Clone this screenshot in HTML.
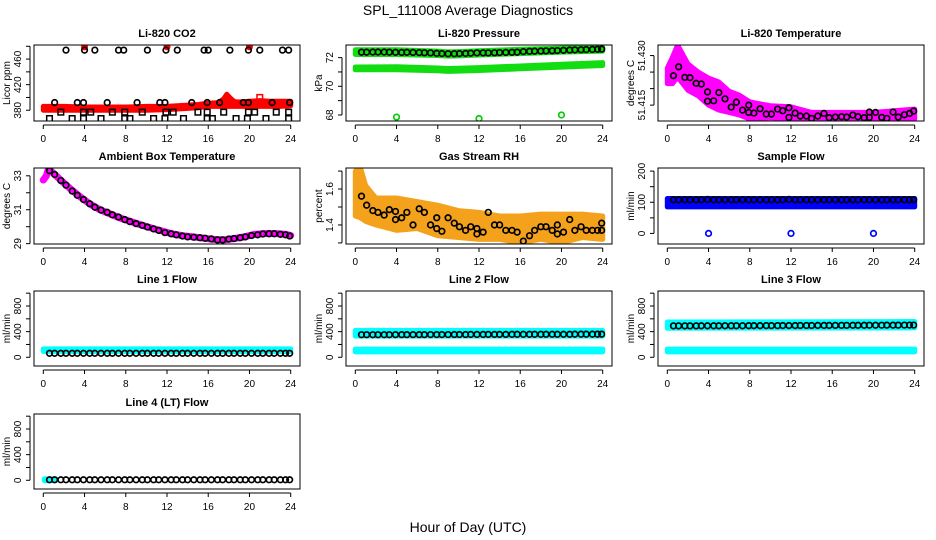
<!DOCTYPE html>
<html><head><meta charset="utf-8"><title>SPL_111008 Average Diagnostics</title>
<style>
html,body{margin:0;padding:0;background:#fff;}
svg{display:block;font-family:"Liberation Sans",Arial,sans-serif;}
</style></head>
<body>
<svg id="chart" width="936" height="540" viewBox="0 0 936 540" xmlns="http://www.w3.org/2000/svg">
<rect x="0" y="0" width="936" height="540" fill="#fff"/>
<text x="468" y="15" text-anchor="middle" font-size="14">SPL_111008  Average Diagnostics</text>
<text x="468" y="532" text-anchor="middle" font-size="14">Hour of Day (UTC)</text>
</svg>
<script>
// ---------- shared time axis ----------
const hours = [0.6,1.1,1.7,2.2,2.8,3.3,3.9,4.5,5.0,5.6,6.2,6.7,7.3,7.9,8.4,9.0,9.6,10.1,10.7,11.2,11.8,12.4,12.9,13.5,14.0,14.6,15.2,15.7,16.3,16.9,17.4,18.0,18.5,19.1,19.6,20.2,20.8,21.3,21.9,22.4,23.0,23.5,23.9];
const xTicks = [0,4,8,12,16,20,24];

// ---------- CO2 ----------
const co2TopT = [2.2,4.0,5.0,7.3,7.8,10.1,11.9,13.0,15.6,16.0,18.1,19.9,21.0,23.2,23.8];
const co2TopV = [474,474,474,474,474,474,474,474,474,474,474,474,474,474,474];
const co2MidT = [1.1,3.3,3.9,6.2,9.1,11.3,11.8,14.4,15.9,17.1,19.4,19.9,22.2,23.9];
const co2MidV = [392,392,392,392,392,392,392,392,392,392,392,392,392,392];
const co2SqHiT = [1.7,3.9,4.6,6.7,7.9,9.6,11.9,12.6,15.0,15.9,17.5,19.9,20.5,22.6,23.8];
const co2SqHiV = [377,377,377,377,377,377,377,377,377,377,377,377,377,377,377];
const co2SqLoT = [0.6,2.8,3.9,5.6,7.9,8.4,10.7,11.8,13.6,15.9,16.4,18.7,19.8,21.6,23.8];
const co2SqLoV = [367,367,367,367,367,367,367,367,367,367,367,367,367,367,367];
const co2RedT = [4,12,20];
const co2RedV = [479,479,479];
const co2BandT = [0,2,4,6,8,10,12,13,14,15,16,17,17.5,17.8,18.2,18.6,19,20,21,22,23,24];
const co2BandLo = [380,380,380,380,380,380,381,382,383,384,386,386,386,386,386,386,386,386,386,386,386,387];
const co2BandHi = [386,386,385,385,385,386,386,387,388,389,391,392,398,405,398,393,393,394,395,394,394,394];

// ---------- Pressure ----------
const presV = [72.38,72.38,72.39,72.39,72.39,72.38,72.37,72.36,72.37,72.36,72.35,72.34,72.33,72.30,72.28,72.27,72.27,72.28,72.29,72.31,72.33,72.33,72.33,72.34,72.35,72.36,72.37,72.38,72.42,72.44,72.45,72.46,72.47,72.48,72.49,72.51,72.53,72.54,72.55,72.56,72.57,72.58,72.59];
const presBandT = [0,4,8,9,10,12,16,20,24];
const presUpLo = [72.22,72.22,72.15,72.10,72.12,72.18,72.28,72.38,72.45];
const presUpHi = [72.55,72.55,72.45,72.40,72.42,72.48,72.58,72.66,72.72];
const presLoLo = [71.15,71.15,71.08,71.04,71.06,71.10,71.22,71.34,71.45];
const presLoHi = [71.35,71.36,71.28,71.24,71.26,71.30,71.42,71.54,71.65];
const presOutT = [4,12,20];
const presOutV = [67.85,67.75,68.0];

// ---------- Li-820 temperature ----------
const tempV = [51.4239,51.4266,51.4234,51.4233,51.4216,51.4214,51.4190,51.4163,51.4188,51.4169,51.4144,51.4159,51.4135,51.4128,51.4126,51.4139,51.4123,51.4123,51.4138,51.4133,51.4142,51.4126,51.4117,51.4117,51.4110,51.4117,51.4125,51.4112,51.4114,51.4115,51.4114,51.4120,51.4115,51.4112,51.4113,51.4128,51.4113,51.4110,51.4129,51.4114,51.4121,51.4125,51.4132];
const tempExT = [3.9,7.9,11.8,19.6];
const tempExV = [51.4162,51.4150,51.4113,51.4129];
const tempBandT = [0,0.5,1,2,3,4,5,6,7,8,10,12,14,16,20,24];
const tempBandLo = [51.4215,51.4215,51.4235,51.4195,51.4178,51.4150,51.4135,51.4128,51.4120,51.4108,51.4112,51.4108,51.4106,51.4106,51.4106,51.4108];
const tempBandHi = [51.4262,51.4295,51.4332,51.4275,51.4250,51.4232,51.4220,51.4192,51.4180,51.4160,51.4148,51.4145,51.4128,51.4128,51.4128,51.4138];

// ---------- Ambient box temperature ----------
const ambV = [33.30,33.08,32.72,32.45,32.10,31.85,31.60,31.35,31.15,30.98,30.85,30.70,30.57,30.42,30.30,30.18,30.08,29.98,29.87,29.78,29.65,29.58,29.52,29.45,29.40,29.38,29.35,29.32,29.28,29.22,29.22,29.27,29.30,29.35,29.40,29.48,29.52,29.57,29.58,29.58,29.55,29.52,29.45];
const ambLineT = [0,0.3,0.5,0.8,1.5,2.5,3.5,4.5,5.5,6.5,7.5,8.5,9.5,10.5,11.5,12.5,13.5,14.5,15.5,16.5,17.5,18.5,19.5,20.5,21.5,22.5,23.5,24];
const ambLineV = [32.75,33.0,33.42,33.25,32.85,32.3,31.8,31.35,31.0,30.75,30.5,30.3,30.1,29.92,29.75,29.58,29.47,29.4,29.33,29.25,29.22,29.3,29.4,29.55,29.6,29.6,29.55,29.48];

// ---------- Gas stream RH ----------
const rhV = [1.56,1.51,1.48,1.47,1.455,1.485,1.475,1.44,1.47,1.40,1.49,1.47,1.40,1.38,1.365,1.44,1.41,1.39,1.37,1.39,1.35,1.36,1.47,1.40,1.40,1.37,1.37,1.36,1.31,1.34,1.37,1.39,1.39,1.37,1.40,1.36,1.43,1.37,1.39,1.37,1.37,1.37,1.41];
const rhExT = [3.9,7.9,11.8,19.6,23.9];
const rhExV = [1.43,1.44,1.38,1.35,1.37];
const rhBandT = [0,0.5,1,2,4,6,8,10,12,14,16,18,20,22,24];
const rhBandLo = [1.45,1.44,1.42,1.40,1.37,1.38,1.34,1.33,1.32,1.32,1.30,1.32,1.30,1.33,1.32];
const rhBandHi = [1.70,1.72,1.62,1.55,1.55,1.53,1.51,1.48,1.47,1.45,1.45,1.46,1.46,1.46,1.45];

// ---------- Sample flow ----------
const sampV = [108,108,108,108,108,108,109,108,108,108,108,108,108,108,108,108,108,108,108,108,109,108,108,108,108,108,108,108,108,108,108,108,108,108,108,108,108,108,108,108,108,108,108];
const sampBandT = [0,24];
const sampBandLo = [85,85];
const sampBandHi = [112,112];
const sampOutT = [4,12,20];
const sampOutV = [0,0,0];

// ---------- Line flows ----------
const line1V = [62,62,62,62,62,62,62,62,62,62,62,62,62,62,62,62,62,62,62,62,62,62,62,62,62,62,62,62,62,62,62,62,62,62,62,62,62,62,62,62,62,62,62];
const line1BandT = [0,24];
const line1BandLo = [92,92];
const line1BandHi = [132,132];
const line2V = [352,352,352,352,352,352,353,353,353,353,353,353,354,354,354,354,355,355,355,356,356,356,357,357,357,357,358,358,358,358,358,358,359,359,359,359,359,360,360,360,360,360,361];
const line2BandT = [0,24];
const line2UpLo = [330,330];
const line2UpHi = [420,420];
const line2LoLo = [85,85];
const line2LoHi = [128,128];
const line3V = [490,490,490,490,490,491,491,491,491,492,492,492,492,493,493,493,494,494,494,495,495,495,496,496,496,497,497,497,498,498,498,499,499,499,500,500,500,501,501,501,502,502,502];
const line3BandT = [0,24];
const line3UpLo = [452,458];
const line3UpHi = [550,558];
const line3LoLo = [85,85];
const line3LoHi = [128,128];
const line4V = [8,8,8,8,8,8,8,8,8,8,8,8,8,8,8,8,8,8,8,8,8,8,8,8,8,8,8,8,8,8,8,8,8,8,8,8,8,8,8,8,8,8,8];
const line4BandT = [0.1,1.2];
const line4BandLo = [-5,-5];
const line4BandHi = [22,22];

// ---------- layout ----------
const colL = [34,346,658], colR = [300,612,924];
const rowT = [45,168,291,414], rowB = [121,244,366,489];
const NS = 'http://www.w3.org/2000/svg';
const svg = document.getElementById('chart');

function mk(tag, attrs, parent){
  const e = document.createElementNS(NS, tag);
  for (const k in attrs) e.setAttribute(k, attrs[k]);
  (parent || svg).appendChild(e);
  return e;
}

function makePanel(key, col, row, title, ylab, ylim, yTicks, yLabels){
  const L = colL[col], R = colR[col], T = rowT[row], B = rowB[row];
  const g = mk('g', {});
  
  
  const x0 = L + 9.3, xs = (R - L - 18.6) / 24;
  const sx = t => x0 + t * xs;
  const sy = v => B - (v - ylim[0]) / (ylim[1] - ylim[0]) * (B - T);
  const clipId = 'clip-' + key;
  const cp = mk('clipPath', {id: clipId}, g);
  mk('rect', {x: L, y: T, width: R - L, height: B - T}, cp);
  const plot = mk('g', {'clip-path': 'url(#' + clipId + ')'}, g);
  
  
  // title
  const tt = mk('text', {x: (L + R) / 2, y: T - 8, 'text-anchor': 'middle', 'font-size': 11, 'font-weight': 'bold'}, g);
  tt.textContent = title;
  
  
  // box
  const box = mk('rect', {x: L, y: T, width: R - L, height: B - T, fill: 'none', stroke: '#000', 'stroke-width': 1}, g);
  
  
  // x axis
  const xa = mk('g', {}, g);
  
  
  mk('line', {x1: sx(xTicks[0]), x2: sx(xTicks[xTicks.length - 1]), y1: B + 4, y2: B + 4, stroke: '#000'}, xa);
  xTicks.forEach(t => {
    mk('line', {x1: sx(t), x2: sx(t), y1: B + 4, y2: B + 8, stroke: '#000'}, xa);
    const lb = mk('text', {x: sx(t), y: B + 21, 'text-anchor': 'middle', 'font-size': 10}, xa);
    lb.textContent = t;
    
    
  });
  // y axis
  const ya = mk('g', {}, g);
  
  
  mk('line', {x1: L - 4, x2: L - 4, y1: sy(yTicks[0]), y2: sy(yTicks[yTicks.length - 1]), stroke: '#000'}, ya);
  yTicks.forEach(v => {
    mk('line', {x1: L - 8, x2: L - 4, y1: sy(v), y2: sy(v), stroke: '#000'}, ya);
  });
  yLabels.forEach(v => {
    const yy = sy(v);
    const lb = mk('text', {x: L - 13, y: yy, 'text-anchor': 'middle', 'font-size': 10, transform: 'rotate(-90 ' + (L - 13) + ' ' + yy + ')'}, ya);
    lb.textContent = v;
    
    
  });
  const yt = mk('text', {x: L - 24, y: (T + B) / 2, 'text-anchor': 'middle', 'font-size': 10, transform: 'rotate(-90 ' + (L - 24) + ' ' + ((T + B) / 2) + ')'}, g);
  yt.textContent = ylab;
  
  
  return {plot, sx, sy, key};
}

function band(p, name, ts, lo, hi, color){
  let pts = ts.map((t, i) => p.sx(t) + ',' + p.sy(hi[i]));
  for (let i = ts.length - 1; i >= 0; i--) pts.push(p.sx(ts[i]) + ',' + p.sy(lo[i]));
  const e = mk('polygon', {points: pts.join(' '), fill: color, stroke: color, 'stroke-width': 5, 'stroke-linejoin': 'round'}, p.plot);
  
  
}
function circles(p, name, ts, vs, color){
  const g = mk('g', {}, p.plot);
  
  
  ts.forEach((t, i) => {
    mk('circle', {cx: p.sx(t), cy: p.sy(vs[i]), r: 2.8, fill: 'none', stroke: color, 'stroke-width': 1.7}, g);
  });
}
function squares(p, name, ts, vs, color){
  const g = mk('g', {}, p.plot);
  
  
  ts.forEach((t, i) => {
    mk('rect', {x: p.sx(t) - 2.8, y: p.sy(vs[i]) - 2.8, width: 5.6, height: 5.6, fill: 'none', stroke: color, 'stroke-width': 1.5}, g);
  });
}
function dots(p, name, ts, vs, color){
  const g = mk('g', {}, p.plot);
  
  
  ts.forEach((t, i) => {
    mk('circle', {cx: p.sx(t), cy: p.sy(vs[i]), r: 3.5, fill: color}, g);
  });
}
function polyline(p, name, ts, vs, color, w){
  const e = mk('polyline', {points: ts.map((t, i) => p.sx(t) + ',' + p.sy(vs[i])).join(' '), fill: 'none', stroke: color, 'stroke-width': w, 'stroke-linejoin': 'round', 'stroke-linecap': 'round'}, p.plot);
  
  
}

// ---------- panels ----------
let p;
p = makePanel('co2', 0, 0, 'Li-820 CO2', 'Licor ppm', [363.2, 482], [380,400,420,440,460,480], [380,420,460]);
band(p, 'co2-red-band', co2BandT, co2BandLo, co2BandHi, '#ff0000');
squares(p, 'co2-red-square', [21], [400], '#ff0000');
dots(p, 'co2-red-points', co2RedT, co2RedV, '#ff0000');
circles(p, 'co2-top-circles', co2TopT, co2TopV, '#000');
circles(p, 'co2-mid-circles', co2MidT, co2MidV, '#000');
squares(p, 'co2-squares-high', co2SqHiT, co2SqHiV, '#000');
squares(p, 'co2-squares-low', co2SqLoT, co2SqLoV, '#000');

p = makePanel('pressure', 1, 0, 'Li-820 Pressure', 'kPa', [67.58, 72.88], [68,69,70,71,72], [68,70,72]);
band(p, 'pressure-upper-band', presBandT, presUpLo, presUpHi, '#11dd11');
band(p, 'pressure-lower-band', presBandT, presLoLo, presLoHi, '#11dd11');
circles(p, 'pressure-outliers', presOutT, presOutV, '#00cc00');
circles(p, 'pressure-average', hours, presV, '#000');

p = makePanel('li820-temp', 2, 0, 'Li-820 Temperature', 'degrees C', [51.4102, 51.4332], [51.415,51.42,51.425,51.43], ['51.415','51.430']);
band(p, 'temp-magenta-band', tempBandT, tempBandLo, tempBandHi, '#ff00ff');
circles(p, 'temp-average', hours, tempV, '#000');
circles(p, 'temp-average-extra', tempExT, tempExV, '#000');

p = makePanel('ambient', 0, 1, 'Ambient Box Temperature', 'degrees C', [28.98, 33.46], [29,30,31,32,33], [29,31,33]);
polyline(p, 'ambient-magenta-line', ambLineT, ambLineV, '#ff00ff', 7);
circles(p, 'ambient-average', hours, ambV, '#000');

p = makePanel('rh', 1, 1, 'Gas Stream RH', 'percent', [1.294, 1.717], [1.3,1.4,1.5,1.6,1.7], [1.4,1.6]);
band(p, 'rh-orange-band', rhBandT, rhBandLo, rhBandHi, '#f4a21c');
circles(p, 'rh-average', hours, rhV, '#000');
circles(p, 'rh-average-extra', rhExT, rhExV, '#000');

p = makePanel('sample-flow', 2, 1, 'Sample Flow', 'ml/min', [-34, 210], [0,50,100,150,200], [0,100,200]);
band(p, 'sample-blue-band', sampBandT, sampBandLo, sampBandHi, '#0000ff');
circles(p, 'sample-outliers', sampOutT, sampOutV, '#0000ff');
circles(p, 'sample-average', hours, sampV, '#000');

p = makePanel('line1', 0, 2, 'Line 1 Flow', 'ml/min', [-136, 1034], [0,200,400,600,800,1000], [0,400,800]);
band(p, 'line1-cyan-band', line1BandT, line1BandLo, line1BandHi, '#00ffff');
circles(p, 'line1-average', hours, line1V, '#000');

p = makePanel('line2', 1, 2, 'Line 2 Flow', 'ml/min', [-136, 1034], [0,200,400,600,800,1000], [0,400,800]);
band(p, 'line2-upper-band', line2BandT, line2UpLo, line2UpHi, '#00ffff');
band(p, 'line2-lower-band', line2BandT, line2LoLo, line2LoHi, '#00ffff');
circles(p, 'line2-average', hours, line2V, '#000');

p = makePanel('line3', 2, 2, 'Line 3 Flow', 'ml/min', [-136, 1034], [0,200,400,600,800,1000], [0,400,800]);
band(p, 'line3-upper-band', line3BandT, line3UpLo, line3UpHi, '#00ffff');
band(p, 'line3-lower-band', line3BandT, line3LoLo, line3LoHi, '#00ffff');
circles(p, 'line3-average', hours, line3V, '#000');

p = makePanel('line4', 0, 3, 'Line 4 (LT) Flow', 'ml/min', [-136, 1034], [0,200,400,600,800,1000], [0,400,800]);
band(p, 'line4-cyan-band', line4BandT, line4BandLo, line4BandHi, '#00ffff');
circles(p, 'line4-average', hours, line4V, '#000');
</script>
</body></html>
